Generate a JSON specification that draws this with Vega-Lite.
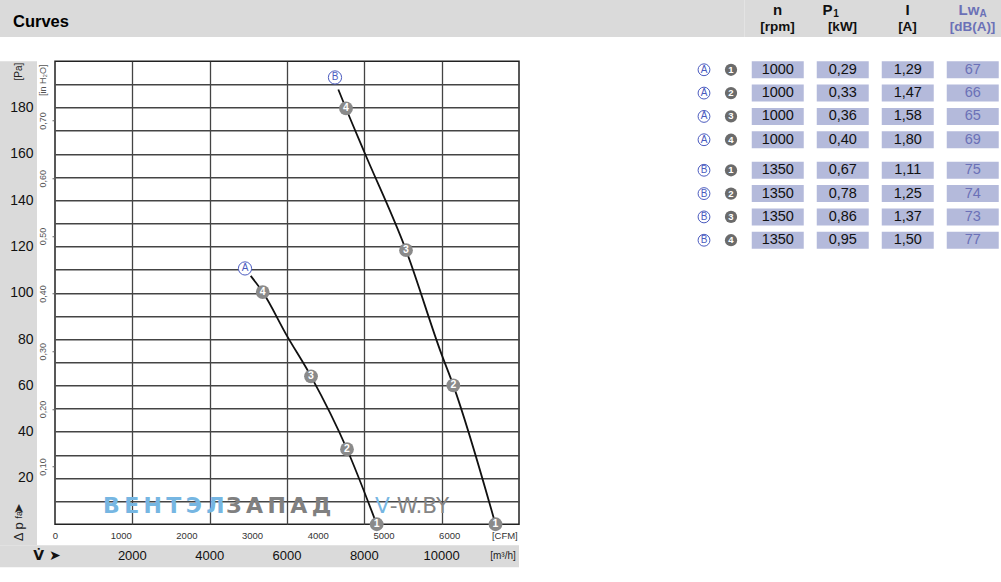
{
  "$schema": "https://vega.github.io/schema/vega-lite/v6.json",
  "padding": 0,
  "background": "#ffffff",
  "config": {"view": {"stroke": null}, "text": {"font": "Liberation Sans, Arial, sans-serif"}},
  "datasets": {
    "hdr": [
      {"col": "n", "l1": "n", "l2": "[rpm]", "sub": ""},
      {"col": "P1", "l1": "P", "l2": "[kW]", "sub": "1"},
      {"col": "I", "l1": "I", "l2": "[A]", "sub": ""},
      {"col": "LwA", "l1": "Lw", "l2": "[dB(A)]", "sub": "A"}
    ],
    "tbl": [
      {"grp": "A", "fan": "1", "n": "1000", "P1": "0,29", "I": "1,29", "LwA": "67"},
      {"grp": "A", "fan": "2", "n": "1000", "P1": "0,33", "I": "1,47", "LwA": "66"},
      {"grp": "A", "fan": "3", "n": "1000", "P1": "0,36", "I": "1,58", "LwA": "65"},
      {"grp": "A", "fan": "4", "n": "1000", "P1": "0,40", "I": "1,80", "LwA": "69"},
      {"grp": "B", "fan": "1", "n": "1350", "P1": "0,67", "I": "1,11", "LwA": "75"},
      {"grp": "B", "fan": "2", "n": "1350", "P1": "0,78", "I": "1,25", "LwA": "74"},
      {"grp": "B", "fan": "3", "n": "1350", "P1": "0,86", "I": "1,37", "LwA": "73"},
      {"grp": "B", "fan": "4", "n": "1350", "P1": "0,95", "I": "1,50", "LwA": "77"}
    ],
    "curve": [
      {"curve": "A", "q": 5061, "pa": 107.3},
      {"curve": "A", "q": 5372, "pa": 100.3},
      {"curve": "A", "q": 5992, "pa": 81.6},
      {"curve": "A", "q": 6621, "pa": 63.9},
      {"curve": "A", "q": 7552, "pa": 32.4},
      {"curve": "A", "q": 8320, "pa": 0},
      {"curve": "B", "q": 7327, "pa": 187.8},
      {"curve": "B", "q": 7526, "pa": 179.6},
      {"curve": "B", "q": 7999, "pa": 160.8},
      {"curve": "B", "q": 9078, "pa": 118.4},
      {"curve": "B", "q": 9991, "pa": 73.7},
      {"curve": "B", "q": 10301, "pa": 60.0},
      {"curve": "B", "q": 11392, "pa": 0}
    ],
    "pts": [
      {"curve": "A", "pt": "4", "q": 5372, "pa": 100.3},
      {"curve": "A", "pt": "3", "q": 6621, "pa": 63.9},
      {"curve": "A", "pt": "2", "q": 7552, "pa": 32.4},
      {"curve": "A", "pt": "1", "q": 8320, "pa": 0},
      {"curve": "B", "pt": "4", "q": 7526, "pa": 179.6},
      {"curve": "B", "pt": "3", "q": 9078, "pa": 118.4},
      {"curve": "B", "pt": "2", "q": 10301, "pa": 60.0},
      {"curve": "B", "pt": "1", "q": 11392, "pa": 0}
    ],
    "lbl": [
      {"curve": "A", "q": 4914, "pa": 110.5},
      {"curve": "B", "q": 7241, "pa": 193.0}
    ],
    "wmBold": [
      {"t": "В\u2009Е\u2009Н\u2009Т\u2009Э\u2009Л", "q": 1241, "pa": 4.75},
      {"t": "З\u2009А\u2009П\u2009А\u2009Д", "q": 4422, "pa": 4.75}
    ],
    "wmThin": [
      {"t": "V", "q": 8276, "pa": 4.75},
      {"t": "-W.BY", "q": 8660, "pa": 4.75}
    ],
    "leftlab": [
      {"kind": "unit", "t": "[Pa]", "pa": 195.5},
      {"kind": "main", "t": "Δ p", "pa": -4.1},
      {"kind": "sub", "t": "fa", "pa": 1.9},
      {"kind": "arrow", "t": "➤", "pa": 5.8}
    ],
    "bot": [
      {"kind": "sym", "t": "V\u0307 ➤", "q": -207},
      {"kind": "num", "t": "2000", "q": 2000},
      {"kind": "num", "t": "4000", "q": 4000},
      {"kind": "num", "t": "6000", "q": 6000},
      {"kind": "num", "t": "8000", "q": 8000},
      {"kind": "num", "t": "10000", "q": 10000},
      {"kind": "unit", "t": "[m³/h]", "q": 11586}
    ]
  },
  "spacing": 23.25,
  "vconcat": [
    {
      "bounds": "flush",
      "spacing": 0,
      "hconcat": [
        {
          "width": 744.5,
          "height": 37,
          "view": {"fill": "#dadada", "stroke": null},
          "title": {"text": "Curves", "anchor": "start", "frame": "group", "orient": "top", "offset": -43, "baseline": "alphabetic", "dx": 13, "font": "Liberation Sans, Arial, sans-serif", "fontSize": 16.5, "fontWeight": "bold", "color": "#000000"},
          "data": {"values": [{"band": "header"}]},
          "mark": {"type": "rect", "fill": "#dadada"}
        },
        {
          "width": 260,
          "height": 37,
          "view": {"fill": "#dadada", "stroke": null},
          "data": {"name": "hdr"},
          "encoding": {
            "x": {"field": "col", "type": "nominal", "scale": {"type": "band", "domain": ["n", "P1", "I", "LwA"], "paddingInner": 0.2, "paddingOuter": 0.1}, "axis": null},
            "color": {"condition": {"test": "datum.col === 'LwA'", "value": "#6b71b7"}, "value": "#111111"}
          },
          "layer": [
            {
              "transform": [{"filter": "datum.sub === ''"}],
              "mark": {"type": "text", "fontSize": 15, "fontWeight": "bold"},
              "encoding": {"y": {"datum": "1", "type": "ordinal", "scale": {"type": "point", "domain": ["1", "2"], "padding": 0.62}, "axis": null}, "text": {"field": "l1"}}
            },
            {
              "transform": [{"filter": "datum.col === 'P1'"}],
              "mark": {"type": "text", "fontSize": 15, "fontWeight": "bold", "dx": -15},
              "encoding": {"y": {"datum": "1", "type": "ordinal", "scale": {"type": "point", "domain": ["1", "2"], "padding": 0.62}, "axis": null}, "text": {"field": "l1"}}
            },
            {
              "transform": [{"filter": "datum.col === 'P1'"}],
              "mark": {"type": "text", "fontSize": 10, "fontWeight": "bold", "dx": -6.5, "dy": 4},
              "encoding": {"y": {"datum": "1", "type": "ordinal", "scale": {"type": "point", "domain": ["1", "2"], "padding": 0.62}, "axis": null}, "text": {"field": "sub"}}
            },
            {
              "transform": [{"filter": "datum.col === 'LwA'"}],
              "mark": {"type": "text", "fontSize": 15, "fontWeight": "bold", "dx": -3.5},
              "encoding": {"y": {"datum": "1", "type": "ordinal", "scale": {"type": "point", "domain": ["1", "2"], "padding": 0.62}, "axis": null}, "text": {"field": "l1"}}
            },
            {
              "transform": [{"filter": "datum.col === 'LwA'"}],
              "mark": {"type": "text", "fontSize": 10, "fontWeight": "bold", "dx": 10.5, "dy": 4},
              "encoding": {"y": {"datum": "1", "type": "ordinal", "scale": {"type": "point", "domain": ["1", "2"], "padding": 0.62}, "axis": null}, "text": {"field": "sub"}}
            },
            {
              "mark": {"type": "text", "fontSize": 13.5, "fontWeight": "bold"},
              "encoding": {"y": {"datum": "2", "type": "ordinal", "scale": {"type": "point", "domain": ["1", "2"], "padding": 0.62}, "axis": null}, "text": {"field": "l2"}}
            }
          ]
        }
      ]
    },
    {
      "spacing": 170.25,
      "hconcat": [
        {
          "spacing": 0,
          "vconcat": [
            {
              "bounds": "flush",
              "spacing": 18,
              "hconcat": [
                {
                  "width": 37,
                  "height": 484,
                  "view": {"fill": "#dadada", "stroke": null},
                  "data": {"name": "leftlab"},
                  "encoding": {
                    "y": {"field": "pa", "type": "quantitative", "scale": {"domain": [-9.07, 200], "nice": false, "zero": false},
                      "axis": {"orient": "left", "offset": -37, "values": [20, 40, 60, 80, 100, 120, 140, 160, 180], "ticks": false, "domain": false, "grid": false, "labelPadding": 4, "labelFontSize": 14, "labelColor": "#111111", "labelFont": "Liberation Sans, Arial, sans-serif", "title": null, "labelOverlap": false, "labelFlush": false, "labelBound": false}}
                  },
                  "layer": [
                    {"transform": [{"filter": "datum.kind === 'unit'"}], "mark": {"type": "text", "angle": 270, "fontSize": 10, "color": "#222222"}, "encoding": {"text": {"field": "t"}}},
                    {"transform": [{"filter": "datum.kind === 'main'"}], "mark": {"type": "text", "angle": 270, "fontSize": 13, "color": "#222222", "dx": 2}, "encoding": {"text": {"field": "t"}}},
                    {"transform": [{"filter": "datum.kind === 'sub'"}], "mark": {"type": "text", "angle": 270, "fontSize": 9, "color": "#222222", "dx": 5}, "encoding": {"text": {"field": "t"}}},
                    {"transform": [{"filter": "datum.kind === 'arrow'"}], "mark": {"type": "text", "angle": 270, "fontSize": 13, "color": "#222222", "dx": 2, "font": "DejaVu Sans"}, "encoding": {"text": {"field": "t"}}}
                  ]
                },
                {
                  "width": 464,
                  "height": 463,
                  "view": {"stroke": "#222222", "strokeWidth": 1.5},
                  "resolve": {"axis": {"x": "independent", "y": "independent"}},
                  "layer": [
                    {
                      "data": {"name": "wmBold"},
                      "mark": {"type": "text", "fontSize": 22, "fontWeight": "bold", "align": "left", "baseline": "alphabetic", "font": "DejaVu Sans"},
                      "encoding": {
                        "x": {"field": "q", "type": "quantitative", "scale": {"domain": [0, 12000], "nice": false, "zero": false}, "axis": null},
                        "y": {"field": "pa", "type": "quantitative", "scale": {"domain": [0, 200], "nice": false, "zero": false}, "axis": null},
                        "text": {"field": "t"},
                        "color": {"condition": {"test": "datum.q < 3000", "value": "#76b6e2"}, "value": "#808080"}
                      }
                    },
                    {
                      "data": {"name": "wmThin"},
                      "mark": {"type": "text", "fontSize": 21.5, "align": "left", "baseline": "alphabetic", "font": "DejaVu Sans"},
                      "encoding": {
                        "x": {"field": "q", "type": "quantitative", "scale": {"domain": [0, 12000], "nice": false, "zero": false}, "axis": null},
                        "y": {"field": "pa", "type": "quantitative", "scale": {"domain": [0, 200], "nice": false, "zero": false}, "axis": null},
                        "text": {"field": "t"},
                        "color": {"condition": {"test": "datum.t === 'V'", "value": "#76b6e2"}, "value": "#858585"}
                      }
                    },
                    {
                      "data": {"name": "curve"},
                      "mark": {"type": "line", "color": "#111111", "strokeWidth": 1.8, "interpolate": "monotone"},
                      "encoding": {
                        "x": {"field": "q", "type": "quantitative", "scale": {"domain": [0, 12000], "nice": false, "zero": false},
                          "axis": {"orient": "bottom", "grid": true, "values": [2000, 4000, 6000, 8000, 10000], "labels": false, "ticks": false, "domain": false, "title": null, "gridColor": "#444444", "gridWidth": 1.3, "gridOpacity": 1}},
                        "y": {"field": "pa", "type": "quantitative", "scale": {"domain": [0, 200], "nice": false, "zero": false},
                          "axis": {"orient": "left", "grid": true, "values": [10, 20, 30, 40, 50, 60, 70, 80, 90, 100, 110, 120, 130, 140, 150, 160, 170, 180, 190], "labels": false, "ticks": false, "domain": false, "title": null, "gridColor": "#444444", "gridWidth": 1.3, "gridOpacity": 1}},
                        "detail": {"field": "curve", "type": "nominal"}
                      }
                    },
                    {
                      "data": {"name": "pts"},
                      "mark": {"type": "point", "shape": "circle", "filled": true, "fill": "#8a8a8a", "size": 190, "opacity": 1, "strokeWidth": 0},
                      "encoding": {
                        "x": {"field": "q", "type": "quantitative", "scale": {"domain": [0, 12000], "nice": false, "zero": false},
                          "axis": {"orient": "bottom", "grid": false, "values": [0, 1699.01, 3398.02, 5097.03, 6796.04, 8495.05, 10194.06, 11620], "labelExpr": "datum.value > 11000 ? '[CFM]' : format(datum.value / 1.69901, '.0f')", "ticks": false, "domain": false, "labelPadding": 6, "labelFontSize": 9.5, "labelColor": "#333333", "labelFont": "Liberation Sans, Arial, sans-serif", "labelFlush": false, "labelOverlap": false, "labelBound": false, "title": null}},
                        "y": {"field": "pa", "type": "quantitative", "scale": {"domain": [0, 200], "nice": false, "zero": false},
                          "axis": {"orient": "left", "grid": false, "values": [24.909, 49.818, 74.727, 99.636, 124.545, 149.453, 174.362, 192], "labelExpr": "datum.value > 180 ? '[in H₂O]' : replace(format(datum.value / 249.089, '.2f'), '.', ',')", "labelAngle": 270, "labelAlign": "center", "labelBaseline": "bottom", "ticks": true, "tickSize": 3, "tickColor": "#666666", "tickOpacity": {"condition": {"test": "datum.value > 180", "value": 0}, "value": 1}, "labelPadding": 4.5, "labelFontSize": 9, "labelColor": "#555555", "labelFont": "Liberation Sans, Arial, sans-serif", "domain": false, "title": null, "labelOverlap": false, "labelFlush": false, "labelBound": false}}
                      }
                    },
                    {
                      "data": {"name": "pts"},
                      "mark": {"type": "text", "color": "#ffffff", "fontSize": 10.5, "fontWeight": "bold"},
                      "encoding": {
                        "x": {"field": "q", "type": "quantitative", "scale": {"domain": [0, 12000], "nice": false, "zero": false}, "axis": null},
                        "y": {"field": "pa", "type": "quantitative", "scale": {"domain": [0, 200], "nice": false, "zero": false}, "axis": null},
                        "text": {"field": "pt"}
                      }
                    },
                    {
                      "data": {"name": "lbl"},
                      "mark": {"type": "point", "shape": "circle", "filled": true, "fill": "#ffffff", "stroke": "#4b5bbf", "strokeWidth": 1, "size": 175, "opacity": 1},
                      "encoding": {
                        "x": {"field": "q", "type": "quantitative", "scale": {"domain": [0, 12000], "nice": false, "zero": false}, "axis": null},
                        "y": {"field": "pa", "type": "quantitative", "scale": {"domain": [0, 200], "nice": false, "zero": false}, "axis": null}
                      }
                    },
                    {
                      "data": {"name": "lbl"},
                      "mark": {"type": "text", "color": "#4b5bbf", "fontSize": 10},
                      "encoding": {
                        "x": {"field": "q", "type": "quantitative", "scale": {"domain": [0, 12000], "nice": false, "zero": false}, "axis": null},
                        "y": {"field": "pa", "type": "quantitative", "scale": {"domain": [0, 200], "nice": false, "zero": false}, "axis": null},
                        "text": {"field": "curve"}
                      }
                    }
                  ]
                }
              ]
            },
            {
              "width": 519,
              "height": 22,
              "view": {"fill": "#dadada", "stroke": null},
              "data": {"name": "bot"},
              "encoding": {"x": {"field": "q", "type": "quantitative", "scale": {"domain": [-1422.4, 12000], "nice": false, "zero": false}, "axis": null}},
              "layer": [
                {"transform": [{"filter": "datum.kind === 'num'"}], "mark": {"type": "text", "fontSize": 13, "color": "#111111"}, "encoding": {"text": {"field": "t"}}},
                {"transform": [{"filter": "datum.kind === 'unit'"}], "mark": {"type": "text", "fontSize": 10, "color": "#222222"}, "encoding": {"text": {"field": "t"}}},
                {"transform": [{"filter": "datum.kind === 'sym'"}], "mark": {"type": "text", "fontSize": 14, "fontWeight": "bold", "color": "#111111", "font": "DejaVu Sans"}, "encoding": {"text": {"field": "t"}}}
              ]
            }
          ]
        },
        {
          "spacing": 0,
          "hconcat": [
            {
              "data": {"name": "tbl"},
              "bounds": "flush",
              "spacing": 13.5,
              "facet": {"row": {"field": "grp", "type": "nominal", "header": null}},
              "spec": {
                "width": 54.5,
                "height": 87,
                "view": {"fill": "#ffffff", "stroke": null},
                "encoding": {
                  "y": {"field": "fan", "type": "ordinal", "scale": {"type": "band", "domain": ["1", "2", "3", "4"], "paddingInner": 0.27, "paddingOuter": 0}, "axis": null}
                },
                "layer": [
                  {
                    "mark": {"type": "point", "shape": "circle", "filled": true, "fill": "#ffffff", "stroke": "#4b5bbf", "strokeWidth": 1, "size": 140, "opacity": 1},
                    "encoding": {"x": {"datum": "grp", "type": "nominal", "scale": {"type": "point", "domain": ["grp", "fan"], "padding": 0.509}, "axis": null}}
                  },
                  {
                    "mark": {"type": "text", "fontSize": 10, "color": "#4b5bbf"},
                    "encoding": {"x": {"datum": "grp", "type": "nominal", "scale": {"type": "point", "domain": ["grp", "fan"], "padding": 0.509}, "axis": null}, "text": {"field": "grp"}}
                  },
                  {
                    "mark": {"type": "point", "shape": "circle", "filled": true, "fill": "#6b6b6b", "size": 150, "opacity": 1, "strokeWidth": 0},
                    "encoding": {"x": {"datum": "fan", "type": "nominal", "scale": {"type": "point", "domain": ["grp", "fan"], "padding": 0.509}, "axis": null}}
                  },
                  {
                    "mark": {"type": "text", "fontSize": 9.5, "fontWeight": "bold", "color": "#ffffff"},
                    "encoding": {"x": {"datum": "fan", "type": "nominal", "scale": {"type": "point", "domain": ["grp", "fan"], "padding": 0.509}, "axis": null}, "text": {"field": "fan"}}
                  }
                ]
              }
            },
            {
              "data": {"name": "tbl"},
              "bounds": "flush",
              "spacing": 13.5,
              "facet": {"row": {"field": "grp", "type": "nominal", "header": null}},
              "spec": {
                "width": 260,
                "height": 87,
                "view": {"fill": "#ffffff", "stroke": null},
                "transform": [{"fold": ["n", "P1", "I", "LwA"], "as": ["col", "val"]}],
                "encoding": {
                  "x": {"field": "col", "type": "nominal", "scale": {"type": "band", "domain": ["n", "P1", "I", "LwA"], "paddingInner": 0.2, "paddingOuter": 0.1}, "axis": null},
                  "y": {"field": "fan", "type": "ordinal", "scale": {"type": "band", "domain": ["1", "2", "3", "4"], "paddingInner": 0.27, "paddingOuter": 0}, "axis": null}
                },
                "layer": [
                  {"mark": {"type": "rect", "fill": "#b4badb"}},
                  {
                    "mark": {"type": "text", "fontSize": 14.5},
                    "encoding": {
                      "text": {"field": "val"},
                      "color": {"condition": {"test": "datum.col === 'LwA'", "value": "#6b71b7"}, "value": "#111111"}
                    }
                  }
                ]
              }
            }
          ]
        }
      ]
    }
  ]
}
